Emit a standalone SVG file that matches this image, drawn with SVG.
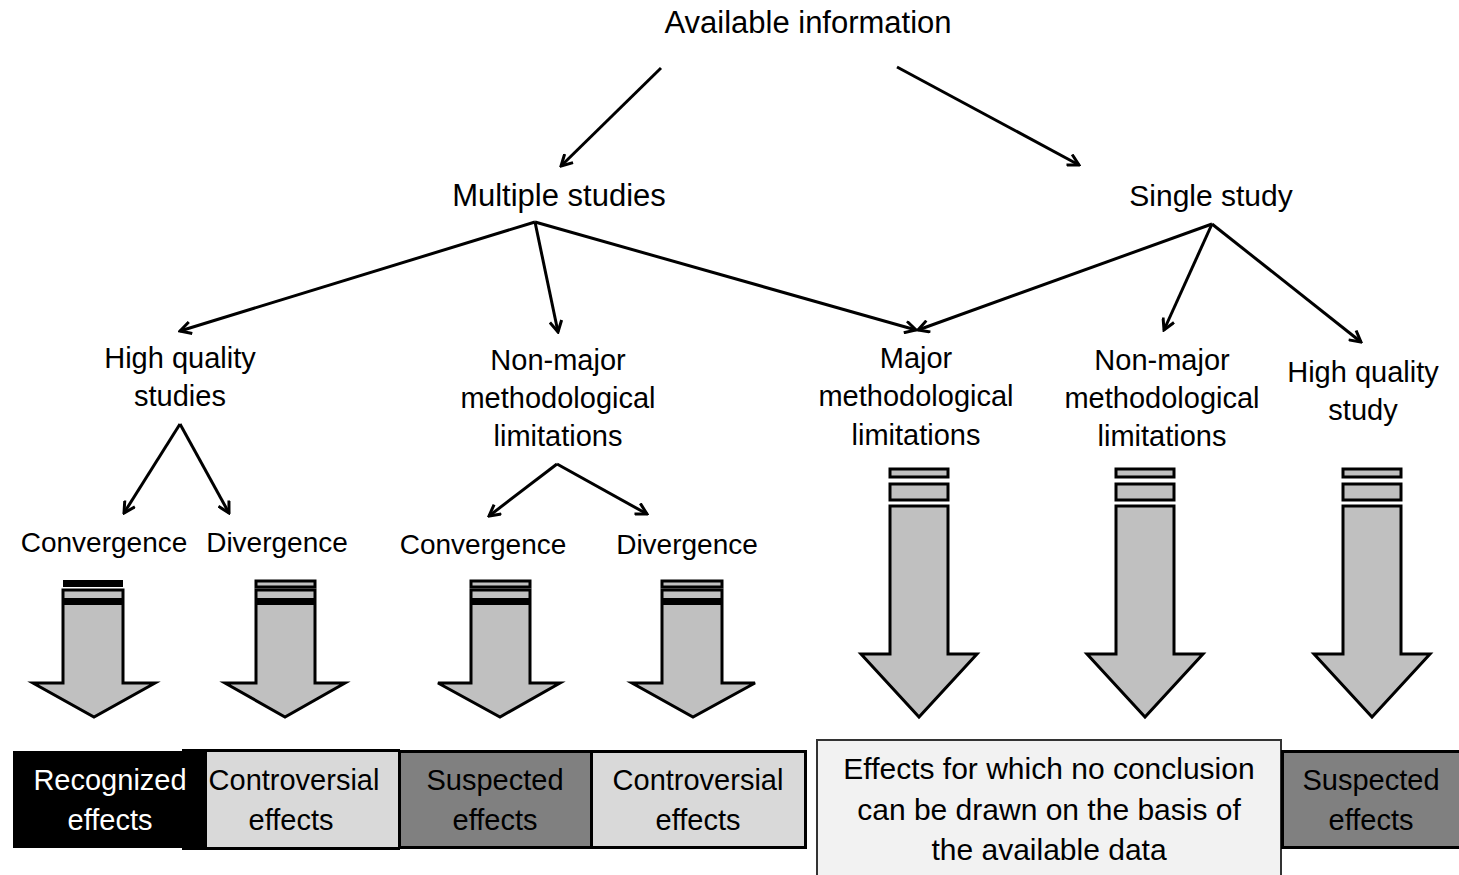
<svg xmlns="http://www.w3.org/2000/svg" width="1459" height="875" viewBox="0 0 1459 875">
<defs>
<style>
text{font-family:"Liberation Sans",Arial,sans-serif;fill:#000;text-anchor:middle}
.t31{font-size:31px}
.t30{font-size:30px}
.t29{font-size:29px}
.t28{font-size:28px}
.con{stroke:#000;stroke-width:3;fill:none;marker-end:url(#ah)}
.blk{fill:#c0c0c0;stroke:#000;stroke-width:3}
.band{fill:#000}
.box{stroke:#000;stroke-width:3}
</style>
<marker id="ah" viewBox="0 0 14 14" refX="12" refY="7" markerWidth="14" markerHeight="14" markerUnits="userSpaceOnUse" orient="auto">
<path d="M1,1 L12,7 L1,13" fill="none" stroke="#000" stroke-width="3"/>
</marker>
</defs>
<rect width="1459" height="875" fill="#fff"/>

<g id="connectors">
<line class="con" x1="661" y1="68" x2="561" y2="166"/>
<line class="con" x1="897" y1="67" x2="1079" y2="165"/>
<line class="con" x1="535" y1="222" x2="180" y2="331"/>
<line class="con" x1="535" y1="222" x2="558" y2="332"/>
<line class="con" x1="535" y1="222" x2="916" y2="330"/>
<line class="con" x1="1212" y1="224" x2="918" y2="330"/>
<line class="con" x1="1212" y1="224" x2="1164" y2="330"/>
<line class="con" x1="1212" y1="224" x2="1361" y2="342"/>
<line class="con" x1="180" y1="424" x2="124" y2="513"/>
<line class="con" x1="180" y1="424" x2="229" y2="513"/>
<line class="con" x1="557" y1="464" x2="489" y2="516"/>
<line class="con" x1="557" y1="464" x2="647" y2="514"/>
</g>

<g id="n-available"><text class="t31" x="808" y="33">Available information</text></g>
<g id="n-multiple"><text class="t31" x="559" y="206">Multiple studies</text></g>
<g id="n-single"><text class="t30" x="1211" y="206">Single study</text></g>

<g id="n-hq-studies"><text class="t29" x="180" y="368">High quality</text><text class="t29" x="180" y="406">studies</text></g>
<g id="n-nonmajor-1"><text class="t29" x="558" y="370">Non-major</text><text class="t29" x="558" y="408">methodological</text><text class="t29" x="558" y="446">limitations</text></g>
<g id="n-major"><text class="t29" x="916" y="368">Major</text><text class="t29" x="916" y="406">methodological</text><text class="t29" x="916" y="445">limitations</text></g>
<g id="n-nonmajor-2"><text class="t29" x="1162" y="370">Non-major</text><text class="t29" x="1162" y="408">methodological</text><text class="t29" x="1162" y="446">limitations</text></g>
<g id="n-hq-study"><text class="t29" x="1363" y="382">High quality</text><text class="t29" x="1363" y="420">study</text></g>

<g id="n-conv-1"><text class="t28" x="104" y="552">Convergence</text></g>
<g id="n-div-1"><text class="t28" x="277" y="552">Divergence</text></g>
<g id="n-conv-2"><text class="t28" x="483" y="554">Convergence</text></g>
<g id="n-div-2"><text class="t28" x="687" y="554">Divergence</text></g>

<!-- small block arrows -->
<g id="barrow-1">
<rect x="63" y="580" width="60" height="7" fill="#000"/>
<polygon class="blk" points="63,590 123,590 123,683 155,683 94,717 33,683 63,683"/>
<rect class="band" x="63" y="598" width="60" height="7"/>
</g>
<g id="barrow-2">
<rect class="blk" x="256" y="581" width="59" height="6"/>
<polygon class="blk" points="256,590 315,590 315,683 345,683 285,717 225,683 256,683"/>
<rect class="band" x="256" y="598" width="59" height="7"/>
</g>
<g id="barrow-3">
<rect class="blk" x="471" y="581" width="59" height="6"/>
<polygon class="blk" points="471,590 530,590 530,683 560,683 500,717 438,683 471,683"/>
<rect class="band" x="471" y="598" width="59" height="7"/>
</g>
<g id="barrow-4">
<rect class="blk" x="662" y="581" width="60" height="6"/>
<polygon class="blk" points="662,590 722,590 722,683 755,683 693,717 632,683 662,683"/>
<rect class="band" x="662" y="598" width="60" height="7"/>
</g>

<!-- large block arrows -->
<g id="barrow-5">
<rect class="blk" x="890" y="469" width="58" height="8"/>
<rect class="blk" x="890" y="484" width="58" height="16"/>
<polygon class="blk" points="890,506 948,506 948,654 977,654 919,717 861,654 890,654"/>
</g>
<g id="barrow-6">
<rect class="blk" x="1116" y="469" width="58" height="8"/>
<rect class="blk" x="1116" y="484" width="58" height="16"/>
<polygon class="blk" points="1116,506 1174,506 1174,654 1203,654 1145,717 1087,654 1116,654"/>
</g>
<g id="barrow-7">
<rect class="blk" x="1343" y="469" width="58" height="8"/>
<rect class="blk" x="1343" y="484" width="58" height="16"/>
<polygon class="blk" points="1343,506 1401,506 1401,654 1430,654 1372,717 1314,654 1343,654"/>
</g>

<!-- bottom boxes -->
<g id="b-controversial-1">
<rect x="182" y="749" width="218" height="101" fill="#000"/>
<rect x="207" y="752" width="191" height="95" fill="#d9d9d9"/>
<text class="t29" x="294" y="790">Controversial</text>
<text class="t29" x="291" y="830">effects</text>
</g>
<g id="b-recognized">
<rect x="13" y="751" width="194" height="97" fill="#000"/>
<text class="t29" x="110" y="790" style="fill:#fff">Recognized</text>
<text class="t29" x="110" y="830" style="fill:#fff">effects</text>
</g>
<g id="b-suspected-1">
<rect class="box" x="399.5" y="751.5" width="192" height="96" fill="#808080"/>
<text class="t29" x="495" y="790">Suspected</text>
<text class="t29" x="495" y="830">effects</text>
</g>
<g id="b-controversial-2">
<rect class="box" x="591.5" y="751.5" width="214" height="96" fill="#d9d9d9"/>
<text class="t29" x="698" y="790">Controversial</text>
<text class="t29" x="698" y="830">effects</text>
</g>
<g id="b-noconclusion">
<rect x="817" y="740" width="464" height="140" fill="#f2f2f2" stroke="#333" stroke-width="2"/>
<text class="t30" x="1049" y="779">Effects for which no conclusion</text>
<text class="t30" x="1049" y="820">can be drawn on the basis of</text>
<text class="t30" x="1049" y="860">the available data</text>
</g>
<g id="b-suspected-2">
<rect class="box" x="1282.5" y="751.5" width="180" height="96" fill="#808080"/>
<text class="t29" x="1371" y="790">Suspected</text>
<text class="t29" x="1371" y="830">effects</text>
</g>
</svg>
